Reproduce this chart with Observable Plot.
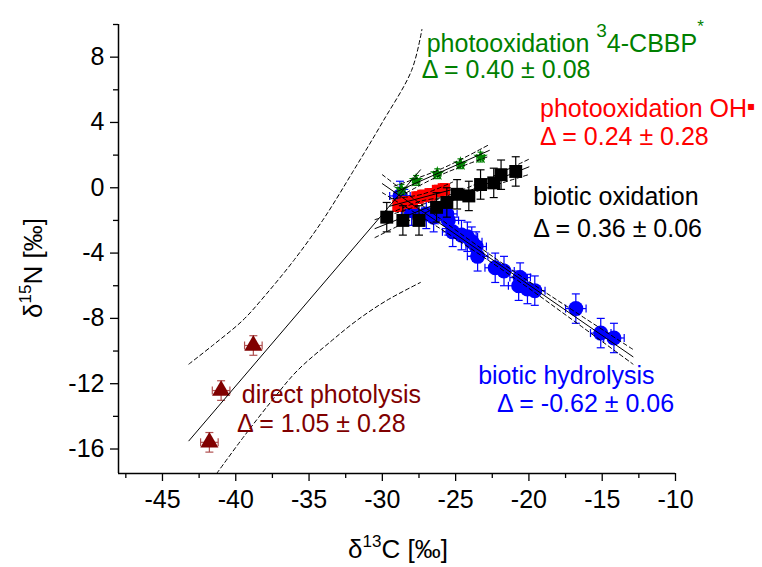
<!DOCTYPE html>
<html><head><meta charset="utf-8">
<script src="https://cdn.jsdelivr.net/npm/d3@7"></script>
<script src="https://cdn.jsdelivr.net/npm/@observablehq/plot@0.6"></script>
<style>body{margin:0;background:#fff}svg{display:block}</style>
</head><body><div id="chart"></div>
<script>
// ---- data ----
const hydrolysisX = [-28.8,-28.5,-28.0,-27.0,-26.5,-25.6,-25.5,-25.2,-24.6,-24.2,-23.9,-23.6,-23.5,-22.3,-21.7,-20.6,-20.7,-20.1,-19.6,-16.8,-15.1,-14.2];
const hydrolysisY = [-0.5,-1.0,-1.4,-1.6,-1.8,-1.6,-2.0,-2.7,-2.9,-3.0,-3.3,-3.6,-4.2,-4.9,-5.1,-5.5,-6.0,-6.2,-6.3,-7.4,-8.9,-9.2];
const hydrolysisErrX = 0.7, hydrolysisErrY = 0.9;

const oxidationX = [-29.7,-28.6,-27.5,-26.3,-25.6,-24.9,-24.1,-23.3,-22.4,-21.9,-20.9];
const oxidationY = [-1.8,-2.0,-2.0,-1.2,-0.9,-0.4,-0.5,0.2,0.3,0.8,1.0];
const oxidationErrX = 0.3, oxidationErrY = 0.9;

const ohX = [-28.9,-28.5,-28.0,-27.6,-27.2,-26.7,-26.2,-25.8];
const ohY = [-1.1,-0.9,-0.9,-0.6,-0.5,-0.4,-0.2,-0.1];
const ohErrX = 0.3, ohErrY = 0.35;

const cbbpX = [-28.7,-27.7,-26.25,-24.67,-23.3];
const cbbpY = [-0.1,0.45,0.86,1.47,1.88];
const cbbpErrX = 0.25, cbbpErrY = 0.3;

const photolysisX = [-38.8,-41.0,-41.8];
const photolysisY = [-9.66,-12.42,-15.59];
const photolysisErrX = 0.6, photolysisErrY = 0.6;

// regression lines and confidence bands
const photolysisFitX = [-43.2,-27.4], photolysisFitY = [-15.5,1.1];
const photolysisUpX = [-43.2,-41.5,-39.5,-38,-36,-34,-32,-30,-28,-27.3];
const photolysisUpY = [-10.8,-9.6,-8.1,-6.6,-4.4,-1.9,1.0,4.0,7.2,9.7];
const photolysisLoX = [-41.3,-39.5,-37.5,-35.8,-33.5,-31.7,-29.7,-27.4];
const photolysisLoY = [-17.5,-15.3,-13.0,-11.2,-9.4,-8.1,-6.9,-5.8];

const hydrolysisFitX = [-30.0,-12.9], hydrolysisFitY = [0.25,-10.35];
const hydrolysisBandX = [-30,-26,-21,-17,-12.9];
const hydrolysisUpY = [0.8,-1.93,-5.13,-7.51,-9.9];
const hydrolysisLoY = [-0.3,-2.53,-5.53,-8.11,-10.8];

const oxidationFitX = [-30.5,-20.0], oxidationFitY = [-2.5,1.28];
const oxidationBandX = [-30.5,-25,-20.0];
const oxidationUpY = [-1.95,-0.3,1.75];
const oxidationLoY = [-3.05,-0.7,0.81];

const cbbpFitX = [-29.2,-22.7], cbbpFitY = [-0.31,2.29];
const cbbpBandX = [-29.2,-26,-22.7];
const cbbpUpY = [0.1,1.15,2.65];
const cbbpLoY = [-0.72,0.79,1.93];

const ohFitX = [-29.5,-25.2], ohFitY = [-1.13,-0.1];
const ohBandX = [-29.5,-27.3,-25.2];
const ohUpY = [-0.68,-0.4,0.35];
const ohLoY = [-1.58,-0.8,-0.55];

const xMajor = [-45,-40,-35,-30,-25,-20,-15,-10];
const xMinor = [-47.5,-42.5,-37.5,-32.5,-27.5,-22.5,-17.5,-12.5];
const yMajor = [8,4,0,-4,-8,-12,-16];
const yMinor = [10,6,2,-2,-6,-10,-14];

// ---- helpers ----
const pts = (xs, ys, xe, ye) => xs.map((x, i) => ({x, y: ys[i], xe, ye}));
const xy = (xs, ys) => xs.map((x, i) => ({x, y: ys[i]}));
const hcap = {draw(c, s){ const r = Math.sqrt(s/Math.PI); c.moveTo(-r,0); c.lineTo(r,0); }};
const vcap = {draw(c, s){ const r = Math.sqrt(s/Math.PI); c.moveTo(0,-r); c.lineTo(0,r); }};
function errMarks(data, color, cap) {
  const o = {stroke: color, strokeWidth: 1.2, fill: "none"};
  return [
    Plot.link(data, {x1: d => d.x - d.xe, x2: d => d.x + d.xe, y1: "y", y2: "y", ...o}),
    Plot.link(data, {x1: "x", x2: "x", y1: d => d.y - d.ye, y2: d => d.y + d.ye, ...o}),
    Plot.dot(data, {x: "x", y: d => d.y + d.ye, symbol: hcap, r: cap, ...o}),
    Plot.dot(data, {x: "x", y: d => d.y - d.ye, symbol: hcap, r: cap, ...o}),
    Plot.dot(data, {x: d => d.x - d.xe, y: "y", symbol: vcap, r: cap, ...o}),
    Plot.dot(data, {x: d => d.x + d.xe, y: "y", symbol: vcap, r: cap, ...o})
  ];
}
const fit = (xs, ys) => Plot.line(xy(xs, ys), {x: "x", y: "y", stroke: "black", strokeWidth: 1});
const band = (xs, ys) => Plot.line(xy(xs, ys), {x: "x", y: "y", stroke: "black", strokeWidth: 1, strokeDasharray: "4,3", curve: "catmull-rom"});

const BLUE = "#0000ff", RED = "#ff0000", GREEN = "#008000", DRED = "#800000";
const hyd = pts(hydrolysisX, hydrolysisY, hydrolysisErrX, hydrolysisErrY);
const oxi = pts(oxidationX, oxidationY, oxidationErrX, oxidationErrY);
const oh = pts(ohX, ohY, ohErrX, ohErrY);
const cb = pts(cbbpX, cbbpY, cbbpErrX, cbbpErrY);
const ph = pts(photolysisX, photolysisY, photolysisErrX, photolysisErrY);

const plot = Plot.plot({
  width: 762, height: 567,
  marginLeft: 118, marginRight: 87, marginTop: 24, marginBottom: 94,
  x: {domain: [-48, -10], label: null},
  y: {domain: [-17.5, 10], label: null},
  style: {fontFamily: "'Liberation Sans', Arial, sans-serif", fontSize: "25px", color: "black", background: "white", overflow: "visible"},
  marks: [
    Plot.axisX(xMajor, {tickSize: 8, tickPadding: 9, tickFormat: d => String(d), label: null, strokeWidth: 1.3}),
    Plot.axisX(xMinor, {tickSize: 5, tickFormat: () => "", label: null, strokeWidth: 1.3}),
    Plot.axisY(yMajor, {tickSize: 8, tickPadding: 6, tickFormat: d => String(d), label: null, strokeWidth: 1.3}),
    Plot.axisY(yMinor, {tickSize: 5, tickFormat: () => "", label: null, strokeWidth: 1.3}),
    Plot.ruleX([-48], {strokeWidth: 1.5}),
    Plot.ruleY([-17.5], {strokeWidth: 1.5}),
    ...errMarks(hyd, BLUE, 4),
    Plot.dot(hyd, {x: "x", y: "y", r: 7.5, fill: BLUE}),
    ...errMarks(oh, RED, 4),
    Plot.dot(oh, {x: "x", y: "y", r: 7, symbol: "square", fill: RED}),
    ...errMarks(cb, GREEN, 3),
    Plot.dot(cb, {x: "x", y: "y", r: 4.6, symbol: "star", fill: GREEN}),
    ...errMarks(oxi, "black", 4),
    Plot.dot(oxi, {x: "x", y: "y", r: 7.3, symbol: "square", fill: "black"}),
    ...errMarks(ph, "#b05050", 4),
    Plot.dot(ph, {x: "x", y: "y", r: 6.7, symbol: "triangle", fill: DRED}),
    fit(photolysisFitX, photolysisFitY),
    band(photolysisUpX, photolysisUpY),
    band(photolysisLoX, photolysisLoY),
    fit(hydrolysisFitX, hydrolysisFitY),
    band(hydrolysisBandX, hydrolysisUpY),
    band(hydrolysisBandX, hydrolysisLoY),
    fit(oxidationFitX, oxidationFitY),
    band(oxidationBandX, oxidationUpY),
    band(oxidationBandX, oxidationLoY),
    fit(cbbpFitX, cbbpFitY),
    band(cbbpBandX, cbbpUpY),
    band(cbbpBandX, cbbpLoY),
    fit(ohFitX, ohFitY),
    band(ohBandX, ohUpY),
    band(ohBandX, ohLoY)
  ]
});
document.getElementById("chart").appendChild(plot);

// ---- annotations, placed through the plot's scales ----
const sx = v => plot.scale("x").apply(v);
const sy = v => plot.scale("y").apply(v);
const svg = d3.select(plot);
const FONT = "'Liberation Sans', Arial, sans-serif";
function label(x, y, color, parts, anchor, transform, size) {
  const t = svg.append("text").attr("x", x).attr("y", y).attr("fill", color)
    .attr("font-family", FONT).attr("font-size", size || 25)
    .attr("text-anchor", anchor || "start");
  if (transform) t.attr("transform", transform);
  parts.forEach(p => {
    const s = t.append("tspan").text(p.t);
    if (p.size) s.attr("font-size", p.size);
    if (p.dy) s.attr("dy", p.dy);
    if (p.font) s.attr("font-family", p.font);
  });
  return t;
}
const notes = [
  {x: -26.94, y: 8.31, c: GREEN, parts: [{t: "photooxidation "}, {t: "3", size: 19, dy: -15}, {t: "4-CBBP", dy: 15}, {t: "*", size: 17, dy: -20}]},
  {x: -27.28, y: 6.68, c: GREEN, parts: [{t: "\u0394 = 0.40 \u00b1 0.08"}]},
  {x: -19.21, y: 4.33, c: RED, parts: [{t: "photooxidation OH"}, {t: "\u25aa", font: "DejaVu Sans", size: 12, dy: -7}]},
  {x: -19.21, y: 2.59, c: RED, parts: [{t: "\u0394 = 0.24 \u00b1 0.28"}]},
  {x: -19.67, y: -1.09, c: "black", parts: [{t: "biotic oxidation"}]},
  {x: -19.67, y: -3.03, c: "black", parts: [{t: "\u0394 = 0.36 \u00b1 0.06"}]},
  {x: -23.43, y: -12.05, c: BLUE, parts: [{t: "biotic hydrolysis"}]},
  {x: -22.14, y: -13.77, c: BLUE, parts: [{t: "\u0394 = -0.62 \u00b1 0.06"}]},
  {x: -39.55, y: -13.24, c: DRED, parts: [{t: "direct photolysis"}]},
  {x: -39.89, y: -14.98, c: DRED, parts: [{t: "\u0394 = 1.05 \u00b1 0.28"}]}
];
notes.forEach(n => label(sx(n.x), sy(n.y), n.c, n.parts));

// axis titles
label(398, 558, "black", [{t: "\u03b4"}, {t: "13", size: 17, dy: -11}, {t: "C [\u2030]", dy: 11}], "middle", null, 26);
label(0, 0, "black", [{t: "\u03b4"}, {t: "15", size: 17, dy: -11}, {t: "N [\u2030]", dy: 11}], "middle", "translate(42,268) rotate(-90)", 26);
</script>
</body></html>
